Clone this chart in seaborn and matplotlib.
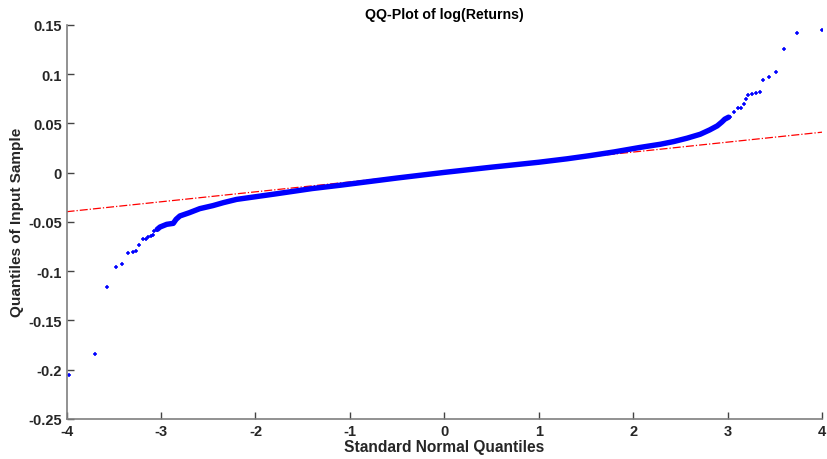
import numpy as np
import pandas as pd
import matplotlib
matplotlib.use("Agg")
import matplotlib.pyplot as plt
import seaborn as sns

sns.set_style("ticks")
plt.rcParams['font.family'] = ['Liberation Sans', 'DejaVu Sans']
plt.rcParams['axes.unicode_minus'] = False

# dense middle part of the QQ curve
core_x = [-3.04, -3.01, -2.94, -2.87, -2.84, -2.80, -2.70, -2.59, -2.45, -2.34,
          -2.2, -2.0, -1.8, -1.6, -1.4, -1.1, -0.5, 0.0, 0.5, 1.0,
          1.3, 1.54, 1.8, 2.07, 2.29, 2.43, 2.57, 2.71, 2.81, 2.89,
          2.94, 2.97, 3.01]
core_y = [-0.0576, -0.0552, -0.0525, -0.0515, -0.0474, -0.0440, -0.0407, -0.0366, -0.0335, -0.0305,
          -0.0272, -0.0245, -0.0218, -0.0190, -0.0162, -0.0128, -0.0055, 0.0002, 0.0055, 0.0105,
          0.0140, 0.0172, 0.0210, 0.0255, 0.0288, 0.0315, 0.0349, 0.0389, 0.0433, 0.0474,
          0.0514, 0.0542, 0.0562]

# sparse tail points
left_x = [-3.97, -3.70, -3.57, -3.48, -3.41, -3.35, -3.30, -3.26, -3.23, -3.19,
          -3.16, -3.14, -3.11, -3.09, -3.07]
left_y = [-0.205, -0.1836, -0.116, -0.0955, -0.0929, -0.0817, -0.0807, -0.0797, -0.0732, -0.0675,
          -0.0671, -0.0650, -0.0640, -0.0637, -0.0593]
right_x = [3.03, 3.07, 3.11, 3.14, 3.17, 3.20, 3.22, 3.26, 3.30, 3.34,
           3.38, 3.44, 3.51, 3.60, 3.73, 4.00]
right_y = [0.0569, 0.0613, 0.0653, 0.0660, 0.0691, 0.0748, 0.0786, 0.0793, 0.0806, 0.0819,
           0.0935, 0.0969, 0.1022, 0.1256, 0.1420, 0.1450]

# reference line endpoints
ref_x = [-4, 4]
ref_y = [-0.0397, 0.0410]

tails = pd.DataFrame({"x": left_x + right_x, "y": left_y + right_y})

fig = plt.figure(figsize=(8.27, 4.6), dpi=100)
ax = fig.add_axes([0.0805, 0.087, 0.9135, 0.857])

# red reference line goes under the blue points
sns.lineplot(x=ref_x, y=ref_y, ax=ax, color="#ff0000", linewidth=0.9,
             linestyle="-.")
sns.lineplot(x=core_x, y=core_y, ax=ax, color="#0000ff", linewidth=3.9, sort=False)
sns.scatterplot(data=tails, x="x", y="y", ax=ax, color="#0000ff", marker="+",
                s=9, linewidth=1.1)

ax.set_xlim(-4, 4)
ax.set_ylim(-0.25, 0.15)
ax.set_xticks([-4, -3, -2, -1, 0, 1, 2, 3, 4])
ax.set_yticks([-0.25, -0.2, -0.15, -0.1, -0.05, 0, 0.05, 0.1, 0.15])
ax.set_yticklabels(["-0.25", "-0.2", "-0.15", "-0.1", "-0.05", "0", "0.05", "0.1", "0.15"])

sns.despine(ax=ax)
for s in ["left", "bottom"]:
    ax.spines[s].set_color("#7f7f7f")
    ax.spines[s].set_linewidth(1.2)
ax.tick_params(direction="in", length=5, width=1, color="#444444",
               labelsize=10.5, labelcolor="#262626")
for lab in ax.get_xticklabels() + ax.get_yticklabels():
    lab.set_fontweight("bold")

ax.set_title("QQ-Plot of log(Returns)", fontsize=10.2, fontweight="bold", color="#000000", pad=5)
ax.set_xlabel("Standard Normal Quantiles", fontsize=11.2, fontweight="bold", color="#262626", labelpad=1)
ax.set_ylabel("Quantiles of Input Sample", fontsize=11, fontweight="bold", color="#262626", labelpad=3)

fig.savefig("out.png", dpi=100)
